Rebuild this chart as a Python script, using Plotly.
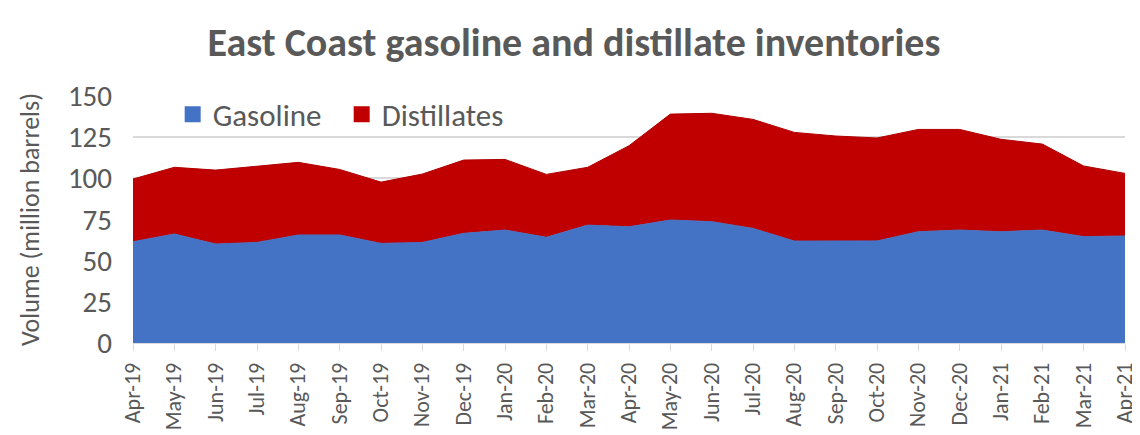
"""East Coast gasoline and distillate inventories, stacked area (plotly)"""
import plotly.graph_objects as go

months = [
    "Apr-19", "May-19", "Jun-19", "Jul-19", "Aug-19", "Sep-19", "Oct-19",
    "Nov-19", "Dec-19", "Jan-20", "Feb-20", "Mar-20", "Apr-20", "May-20",
    "Jun-20", "Jul-20", "Aug-20", "Sep-20", "Oct-20", "Nov-20", "Dec-20",
    "Jan-21", "Feb-21", "Mar-21", "Apr-21",
]

# million barrels
gasoline = [
    61.5, 66.2, 60.1, 61.1, 65.6, 65.6, 60.5, 61.1, 66.6, 68.6, 64.2, 71.6,
    70.6, 74.7, 73.7, 69.6, 61.9, 62.0, 62.0, 67.6, 68.6, 67.6, 68.6, 64.6,
    65.0,
]
distillates = [
    38.1, 40.5, 44.9, 46.3, 44.1, 39.8, 37.2, 41.5, 44.5, 42.9, 38.2, 35.1,
    49.2, 64.3, 65.8, 66.2, 66.0, 63.7, 62.5, 62.1, 61.1, 56.1, 52.2, 42.9,
    38.0,
]

y_ticks = [0, 25, 50, 75, 100, 125, 150]

FONT = "Carlito, Open Sans, sans-serif"
GREY = "#595959"
BLUE = "#4472C4"
RED = "#C00000"

fig = go.Figure()
fig.add_trace(go.Scatter(
    x=months, y=gasoline, name="Gasoline", stackgroup="one", mode="lines",
    line=dict(color=BLUE, width=1), fillcolor=BLUE, showlegend=False,
))
fig.add_trace(go.Scatter(
    x=months, y=distillates, name="Distillates", stackgroup="one", mode="lines",
    line=dict(color="#B00000", width=1), fillcolor=RED, showlegend=False,
))

# square legend keys like the Excel original
for name, color in [("Gasoline", BLUE), ("Distillates", RED)]:
    fig.add_trace(go.Scatter(
        x=[None], y=[None], name=name, mode="markers",
        marker=dict(symbol="square", size=19, color=color),
    ))

fig.update_layout(
    width=1132,
    height=427,
    margin=dict(l=125, r=15, t=88, b=92),
    paper_bgcolor="white",
    plot_bgcolor="white",
    font=dict(family=FONT, color=GREY),
    title=dict(
        text="<b>East Coast gasoline and distillate inventories</b>",
        x=0.5, xanchor="center", y=0.92, yanchor="middle",
        font=dict(size=40, color=GREY),
    ),
    legend=dict(
        orientation="h", x=0.04, y=0.925, xanchor="left", yanchor="middle",
        font=dict(size=31, color=GREY), bgcolor="rgba(0,0,0,0)",
        itemwidth=30, traceorder="normal",
        entrywidth=124, entrywidthmode="pixels",
    ),
    xaxis=dict(
        type="category", range=[0, len(months) - 1], automargin=False,
        tickangle=-90, tickfont=dict(size=22, color=GREY), ticklabelstandoff=3,
        ticks="outside", ticklen=7, tickcolor="#D9D9D9",
        showgrid=False, showline=True, linecolor="#D9D9D9",
    ),
    yaxis=dict(
        range=[0, 150], tickvals=y_ticks, automargin=False,
        tickfont=dict(size=29, color=GREY), ticklabelstandoff=20,
        gridcolor="#D9D9D9", gridwidth=1.5, zeroline=False,
        title=dict(text="Volume (million barrels)", font=dict(size=26, color=GREY),
                   standoff=20),
    ),
)

fig.write_html("out.html")
